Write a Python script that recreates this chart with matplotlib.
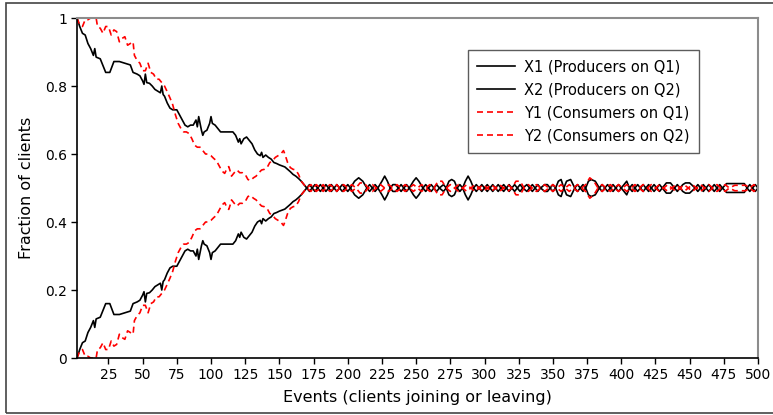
import matplotlib
matplotlib.use("Agg")
import matplotlib.pyplot as plt
from matplotlib.patches import Rectangle
import numpy as np

# ---- data: (event, fraction) vertices of the simulated client fractions ----
# Producers on Q1 (X1); producers on Q2 is the complement (X2 = 1 - X1)
x1_events = [2, 4, 6, 8, 10, 12, 14, 15, 16, 19, 21, 23, 26, 29, 33, 37, 41, 43, 46, 48,
             50, 51, 52, 53, 55, 57, 58, 59, 61, 63, 64, 65, 66, 68, 70, 72, 75, 77, 79, 81,
             83, 85, 87, 89, 90, 91, 92, 93, 94, 95, 97, 99, 100, 101, 103, 105, 107, 110, 113, 116,
             118, 120, 121, 122, 124, 126, 128, 130, 132, 134, 136, 137, 138, 140, 142, 144, 146, 148, 150, 152,
             154, 156, 158, 160, 162, 164, 166, 168, 170,
             172, 174, 176, 178, 180, 182, 184, 186, 188, 190, 192, 194, 196, 198, 200, 202,
             205, 208, 211, 214, 216, 218, 220, 222, 225, 227, 229, 231, 233, 235, 237, 239, 241, 243, 245,
             248, 250, 252, 255, 257, 259, 261, 263, 265, 267, 270, 272, 274, 276, 278, 280, 282, 284,
             286, 288, 290, 292, 294, 296, 298, 300, 302, 304, 306, 308, 310, 312, 314, 316, 318, 320,
             322, 324, 326, 328, 331, 333, 335, 337, 339, 341, 344, 346, 348, 350, 352, 354, 356, 358,
             360, 363, 366, 368, 370, 372, 374, 376, 378, 381, 384, 386, 388, 390, 392, 394, 396, 398,
             400, 402, 404, 406, 408, 410, 412, 414, 416, 418, 420, 422, 424, 426, 428, 430, 433, 436,
             439, 441, 443, 445, 447, 450, 454, 456, 458, 460, 462, 464, 466, 468, 470, 472, 474, 477,
             480, 485, 490, 492, 494, 496, 498, 500]
x1_values = [1.0, 0.975, 0.955, 0.95, 0.925, 0.91, 0.89, 0.91, 0.885, 0.88, 0.86, 0.84, 0.84, 0.872, 0.872, 0.867, 0.862, 0.84, 0.835, 0.83,
             0.815, 0.805, 0.835, 0.81, 0.808, 0.80, 0.795, 0.79, 0.785, 0.78, 0.80, 0.775, 0.77, 0.75, 0.735, 0.73, 0.73, 0.715, 0.70, 0.685,
             0.68, 0.685, 0.685, 0.70, 0.68, 0.71, 0.69, 0.67, 0.655, 0.665, 0.67, 0.69, 0.71, 0.69, 0.685, 0.675, 0.665, 0.665, 0.665, 0.665,
             0.655, 0.635, 0.645, 0.63, 0.645, 0.65, 0.64, 0.63, 0.612, 0.60, 0.595, 0.605, 0.59, 0.597, 0.59, 0.585, 0.575, 0.572, 0.568, 0.565,
             0.562, 0.555, 0.548, 0.54, 0.535, 0.528, 0.52, 0.51, 0.50,
             0.51, 0.50, 0.51, 0.50, 0.51, 0.50, 0.51, 0.50, 0.51, 0.50, 0.51, 0.50, 0.51, 0.50, 0.51, 0.50,
             0.52, 0.53, 0.52, 0.50, 0.51, 0.50, 0.51, 0.50, 0.52, 0.535, 0.52, 0.50, 0.51, 0.51, 0.50, 0.51, 0.50, 0.51, 0.50,
             0.52, 0.53, 0.52, 0.50, 0.51, 0.50, 0.51, 0.50, 0.51, 0.50, 0.51, 0.50, 0.52, 0.525, 0.52, 0.50, 0.51, 0.50,
             0.52, 0.535, 0.52, 0.50, 0.51, 0.50, 0.51, 0.50, 0.51, 0.50, 0.51, 0.50, 0.51, 0.50, 0.51, 0.50, 0.51, 0.50,
             0.51, 0.50, 0.51, 0.50, 0.51, 0.50, 0.51, 0.50, 0.51, 0.50, 0.51, 0.51, 0.50, 0.51, 0.50, 0.52, 0.525, 0.50,
             0.52, 0.525, 0.50, 0.51, 0.50, 0.51, 0.50, 0.52, 0.525, 0.52, 0.50, 0.51, 0.50, 0.51, 0.50, 0.51, 0.50, 0.51,
             0.50, 0.51, 0.52, 0.50, 0.51, 0.50, 0.51, 0.50, 0.51, 0.50, 0.51, 0.50, 0.51, 0.50, 0.51, 0.50, 0.515, 0.515,
             0.50, 0.51, 0.50, 0.51, 0.515, 0.515, 0.50, 0.51, 0.50, 0.51, 0.50, 0.51, 0.50, 0.51, 0.50, 0.51, 0.50, 0.513,
             0.513, 0.513, 0.513, 0.50, 0.51, 0.50, 0.51, 0.50]

# Consumers on Q1 (Y1); consumers on Q2 is the complement (Y2 = 1 - Y1)
y1_events = [2, 4, 6, 8, 10, 12, 14, 16, 17, 19, 21, 23, 25, 27, 29, 31, 33, 35, 37, 39,
             41, 43, 44, 46, 48, 50, 52, 54, 56, 58, 60, 62, 64, 66, 68, 70, 72, 74, 76, 78,
             80, 82, 84, 86, 88, 90, 92, 94, 96, 98, 100, 102, 104, 106, 108, 110, 112, 113, 114, 115,
             117, 119, 121, 123, 125, 127, 129, 131, 133, 135, 137, 139, 141, 143, 145, 147, 149, 151, 153, 154,
             156, 158, 160, 162, 164, 166, 168, 170,
             173, 175, 177, 180, 182, 184, 187, 190, 192, 194, 197, 200, 203, 206, 209, 212, 215, 218,
             221, 224, 227, 230, 233, 236, 239, 242, 245, 248, 251, 254, 257, 260, 263, 266, 269, 272,
             275, 278, 281, 284, 287, 290, 293, 296, 299, 302, 305, 308, 311, 314, 317, 320, 323, 326,
             329, 332, 335, 338, 341, 344, 347, 350, 353, 356, 359, 362, 365, 368, 371, 374, 377, 380,
             383, 386, 389, 392, 395, 398, 401, 404, 407, 410, 413, 416, 419, 422, 425, 428, 431, 434,
             437, 440, 443, 446, 449, 452, 455, 458, 461, 464, 467, 470, 473, 476, 479, 483, 487, 491,
             494, 497, 500]
y1_values = [1.0, 0.98, 0.975, 0.995, 0.995, 1.0, 1.0, 1.0, 0.975, 0.97, 0.955, 0.975, 0.975, 0.95, 0.965, 0.96, 0.93, 0.94, 0.945, 0.92,
             0.925, 0.93, 0.89, 0.875, 0.867, 0.845, 0.845, 0.867, 0.84, 0.835, 0.82, 0.82, 0.81, 0.80, 0.783, 0.765, 0.745, 0.715, 0.69, 0.675,
             0.665, 0.665, 0.66, 0.645, 0.626, 0.62, 0.62, 0.61, 0.60, 0.60, 0.595, 0.587, 0.58, 0.565, 0.55, 0.543, 0.56, 0.563, 0.55, 0.535,
             0.545, 0.553, 0.545, 0.545, 0.54, 0.525, 0.522, 0.53, 0.535, 0.545, 0.553, 0.555, 0.56, 0.575, 0.58, 0.59, 0.595, 0.60, 0.61, 0.60,
             0.575, 0.56, 0.555, 0.553, 0.54, 0.52, 0.51, 0.50,
             0.51, 0.50, 0.51, 0.50, 0.51, 0.50, 0.51, 0.50, 0.51, 0.50, 0.51, 0.50, 0.51, 0.50, 0.515, 0.515, 0.50, 0.51,
             0.50, 0.51, 0.50, 0.51, 0.50, 0.51, 0.50, 0.51, 0.50, 0.51, 0.50, 0.51, 0.50, 0.51, 0.50, 0.52, 0.52, 0.50,
             0.51, 0.50, 0.51, 0.50, 0.51, 0.50, 0.51, 0.50, 0.51, 0.50, 0.51, 0.50, 0.51, 0.50, 0.51, 0.50, 0.52, 0.52,
             0.50, 0.51, 0.50, 0.51, 0.50, 0.51, 0.50, 0.51, 0.50, 0.51, 0.50, 0.51, 0.50, 0.51, 0.50, 0.51, 0.53, 0.52,
             0.50, 0.51, 0.50, 0.51, 0.50, 0.51, 0.50, 0.51, 0.50, 0.51, 0.50, 0.51, 0.50, 0.51, 0.50, 0.51, 0.50, 0.51,
             0.50, 0.51, 0.50, 0.51, 0.50, 0.51, 0.50, 0.51, 0.50, 0.51, 0.50, 0.51, 0.50, 0.51, 0.50, 0.508, 0.508, 0.508,
             0.50, 0.51, 0.50]

labels = ["X1 (Producers on Q1)", "X2 (Producers on Q2)",
          "Y1 (Consumers on Q1)", "Y2 (Consumers on Q2)"]
x_ticks = list(range(25, 501, 25))
y_ticks = [0, 0.2, 0.4, 0.6, 0.8, 1]

x1 = np.array(x1_values)
y1 = np.array(y1_values)
x2 = 1 - x1
y2 = 1 - y1

plt.rcParams["font.family"] = ["DejaVu Sans"]

fig = plt.figure(figsize=(7.73, 4.15), dpi=100)
ax = fig.add_axes([0.0996, 0.1373, 0.8810, 0.8193])

lw = 1.2
dash = (3.6, 2.4)
ax.plot(x1_events, x1, color="black", lw=lw, label=labels[0])
ax.plot(x1_events, x2, color="black", lw=lw, label=labels[1])
ax.plot(y1_events, y1, color="red", lw=lw, dashes=dash, label=labels[2])
ax.plot(y1_events, y2, color="red", lw=lw, dashes=dash, label=labels[3])

ax.set_xlim(2, 500)
ax.set_ylim(0, 1)
ax.set_xticks(x_ticks)
ax.set_yticks(y_ticks)
ax.set_yticklabels(["%g" % t for t in y_ticks])
ax.tick_params(labelsize=10, length=4, width=1, direction="out", pad=3)

for side in ("left", "bottom"):
    ax.spines[side].set_color("black")
    ax.spines[side].set_linewidth(1.2)
for side in ("top", "right"):
    ax.spines[side].set_color("#8c8c8c")
    ax.spines[side].set_linewidth(1.5)

ax.set_xlabel("Events (clients joining or leaving)", fontsize=11.5, labelpad=6)
ax.set_ylabel("Fraction of clients", fontsize=11.5, labelpad=8)

leg = ax.legend(loc="upper right", bbox_to_anchor=(0.9134, 0.9059),
                fontsize=10.5, frameon=True, fancybox=False, borderpad=0.65,
                handlelength=2.6, handletextpad=0.6, labelspacing=0.55,
                borderaxespad=0)
leg.get_frame().set_edgecolor("#333333")
leg.get_frame().set_linewidth(1.0)

# thin frame round the whole figure
fig.patches.append(Rectangle((6.5 / 773, 2 / 415), 1, 1 - 5.5 / 415,
                             transform=fig.transFigure, fill=False,
                             edgecolor="#444444", lw=1.2))

fig.savefig("out.png", dpi=100)
